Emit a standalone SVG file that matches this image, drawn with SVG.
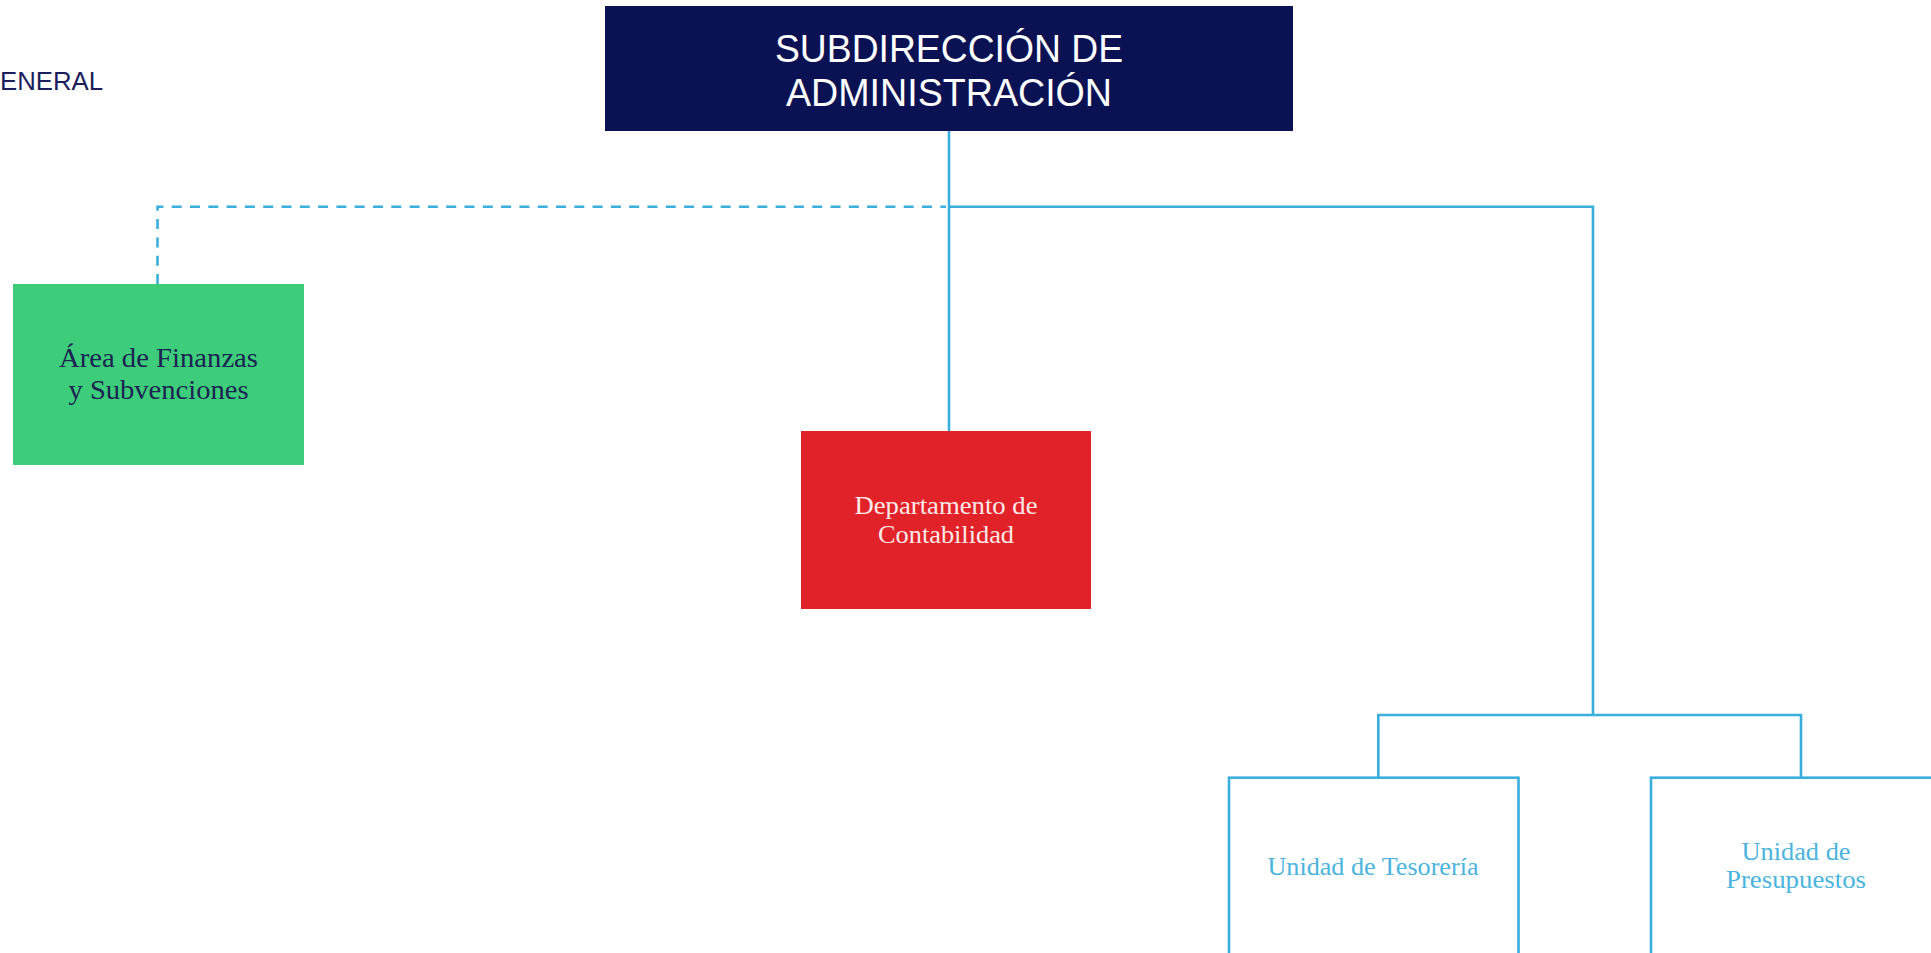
<svg xmlns="http://www.w3.org/2000/svg" width="1931" height="953" viewBox="0 0 1931 953">
<style>
.title{font-family:"Liberation Sans",Arial,sans-serif;font-size:39px;fill:#ffffff;text-anchor:middle}
.serif{font-family:"Liberation Serif","Times New Roman",serif;text-anchor:middle}
.conn{fill:none;stroke:#3aaedc;stroke-width:2.6}
.dash{stroke-dasharray:10 8.3}
.unit{fill:#ffffff;stroke:#3aaedc;stroke-width:2.6}
.unitText{font-size:26px;fill:#4ab4de}
</style>
<rect x="0" y="0" width="1931" height="953" fill="#ffffff"/>
<text x="0" y="90" font-family="'Liberation Sans',Arial,sans-serif" font-size="26" fill="#1b1d5c" textLength="103" lengthAdjust="spacingAndGlyphs">ENERAL</text>
<g id="connectors">
<path class="conn dash" d="M157.5 284 V206.7 H946"/>
<path class="conn" d="M949 131 V431"/>
<path class="conn" d="M949 206.7 H1593 V715"/>
<path class="conn" d="M1378.3 777.7 V715 H1801 V777.7"/>
</g>
<g id="subdireccion">
<rect x="605" y="6" width="688" height="125" fill="#0b1254"/>
<text class="title" x="949" y="62" textLength="348" lengthAdjust="spacingAndGlyphs">SUBDIRECCIÓN DE</text>
<text class="title" x="949" y="106" textLength="326" lengthAdjust="spacingAndGlyphs">ADMINISTRACIÓN</text>
</g>
<g id="finanzas">
<rect x="13" y="284" width="291" height="181" fill="#3dcc7a"/>
<text class="serif" x="158.5" y="367" font-size="27" fill="#1a2352" textLength="199" lengthAdjust="spacingAndGlyphs">Área de Finanzas</text>
<text class="serif" x="158.5" y="399" font-size="27" fill="#1a2352" textLength="180" lengthAdjust="spacingAndGlyphs">y Subvenciones</text>
</g>
<g id="contabilidad">
<rect x="801" y="431" width="290" height="178" fill="#e22229"/>
<text class="serif" x="946" y="514" font-size="25" fill="#fde9e9" textLength="183" lengthAdjust="spacingAndGlyphs">Departamento de</text>
<text class="serif" x="946" y="543" font-size="25" fill="#fde9e9" textLength="136" lengthAdjust="spacingAndGlyphs">Contabilidad</text>
</g>
<g id="tesoreria">
<rect class="unit" x="1229" y="777.7" width="289.5" height="220"/>
<text class="serif unitText" x="1373" y="875" textLength="211" lengthAdjust="spacingAndGlyphs">Unidad de Tesorería</text>
</g>
<g id="presupuestos">
<rect class="unit" x="1651" y="777.7" width="289.5" height="220"/>
<text class="serif unitText" x="1796" y="860" textLength="109" lengthAdjust="spacingAndGlyphs">Unidad de</text>
<text class="serif unitText" x="1796" y="888" textLength="140" lengthAdjust="spacingAndGlyphs">Presupuestos</text>
</g>
</svg>
